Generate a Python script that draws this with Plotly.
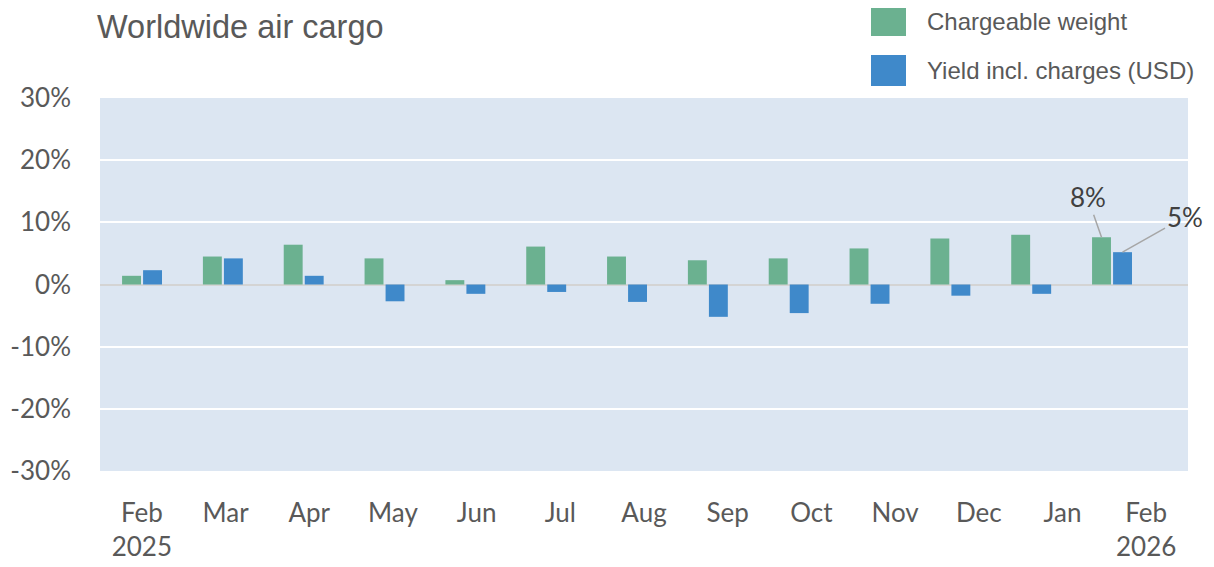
import plotly.graph_objects as go

months = ["Feb 2025", "Mar", "Apr", "May", "Jun", "Jul", "Aug", "Sep", "Oct", "Nov", "Dec", "Jan", "Feb 2026"]
tick_labels = ["Feb<br>2025", "Mar", "Apr", "May", "Jun", "Jul", "Aug", "Sep", "Oct", "Nov", "Dec", "Jan", "Feb<br>2026"]
y_tick_vals = [-30, -20, -10, 0, 10, 20, 30]
y_tick_text = ["-30%", "-20%", "-10%", "0%", "10%", "20%", "30%"]
chargeable_weight = [1.4, 4.5, 6.4, 4.2, 0.7, 6.1, 4.5, 3.9, 4.2, 5.8, 7.4, 8.0, 7.6]
yield_usd = [2.3, 4.2, 1.4, -2.7, -1.5, -1.2, -2.8, -5.2, -4.6, -3.1, -1.8, -1.5, 5.2]

GREEN = "#6bb190"
BLUE = "#3f89ca"
TXT = "#595959"

fig = go.Figure()
fig.add_trace(go.Bar(x=months, y=chargeable_weight, name="Chargeable weight",
                     marker=dict(color=GREEN, line=dict(width=0)), xaxis="x", yaxis="y"))
fig.add_trace(go.Bar(x=months, y=yield_usd, name="Yield incl. charges (USD)",
                     marker=dict(color=BLUE, line=dict(width=0)), xaxis="x", yaxis="y"))
# invisible trace carrying the month tick labels
fig.add_trace(go.Scatter(x=months, y=[0] * len(months), mode="markers",
                         marker=dict(opacity=0), hoverinfo="skip", showlegend=False,
                         xaxis="x2", yaxis="y"))

# page body has an 8px default margin: compensate so the plot area lands at page px 100..1188, 98..471
OFF = 8
W, H = 1214 - OFF, 567 - OFF
L, R, T, B = 100 - OFF, 26, 98 - OFF, 96
PL, PT = 100, 98
pw, ph = W - L - R, H - T - B

def px(xp):
    return (xp - PL) / pw

def py(yp):
    return (PT + ph - yp) / ph

shapes = []
annotations = []
legend_items = [("Chargeable weight", GREEN, 6, 36), ("Yield incl. charges (USD)", BLUE, 55, 86)]
for label, col, y0, y1 in legend_items:
    shapes.append(dict(type="rect", xref="paper", yref="paper", x0=px(871), x1=px(906),
                       y0=py(y1), y1=py(max(y0, OFF)), fillcolor=col, line=dict(width=0), layer="above"))
    annotations.append(dict(text=label, xref="paper", yref="paper", x=px(925), y=py((y0 + y1) / 2),
                            xanchor="left", yanchor="middle", showarrow=False,
                            font=dict(family="Liberation Sans, Arial", size=24, color=TXT)))

annotations.append(dict(text="Worldwide air cargo", xref="paper", yref="paper", x=px(96), y=py(OFF),
                        xanchor="left", yanchor="top", showarrow=False, borderpad=0,
                        font=dict(family="Liberation Sans, Arial", size=32.5, color=TXT)))

label_font = dict(family="Lato, Calibri, sans-serif", size=26, color="#404040")
annotations.append(dict(x=months[-1], y=chargeable_weight[-1], xref="x", yref="y", xshift=-10.5,
                        text=f"{round(chargeable_weight[-1])}%", showarrow=True, arrowhead=0,
                        arrowwidth=1.5, arrowcolor="#a6a6a6", ax=-14, ay=-40, font=label_font))
annotations.append(dict(x=months[-1], y=yield_usd[-1], xref="x", yref="y", xshift=10.5,
                        text=f"{round(yield_usd[-1])}%", showarrow=True, arrowhead=0,
                        arrowwidth=1.5, arrowcolor="#a6a6a6", ax=62, ay=-35, font=label_font))

fig.update_layout(
    width=W, height=H,
    margin=dict(l=L, r=R, t=T, b=B, autoexpand=False),
    paper_bgcolor="white",
    plot_bgcolor="#dce6f2",
    barmode="group",
    bargap=0.48,
    bargroupgap=0.1,
    showlegend=False,
    xaxis=dict(type="category", range=[-0.52, 12.94], showticklabels=False, automargin=False,
               showgrid=False, zeroline=False, showline=False, ticks="", fixedrange=True),
    xaxis2=dict(type="category", overlaying="x", anchor="y", side="bottom", automargin=False,
                range=[-0.5, 12.5], tickvals=months, ticktext=tick_labels,
                showgrid=False, zeroline=False, showline=False, ticks="",
                ticklabelstandoff=24,
                tickfont=dict(family="Lato, Calibri, sans-serif", size=26, color=TXT)),
    yaxis=dict(range=[-30, 30], tickvals=y_tick_vals, ticktext=y_tick_text, showgrid=True,
               automargin=False,
               gridcolor="white", gridwidth=2, zeroline=True, zerolinecolor="#d4d4d4",
               zerolinewidth=2, showline=False, ticks="", ticklabelstandoff=28,
               tickfont=dict(family="Lato, Calibri, sans-serif", size=26, color=TXT)),
    shapes=shapes,
    annotations=annotations,
)

fig.write_html("out.html")
